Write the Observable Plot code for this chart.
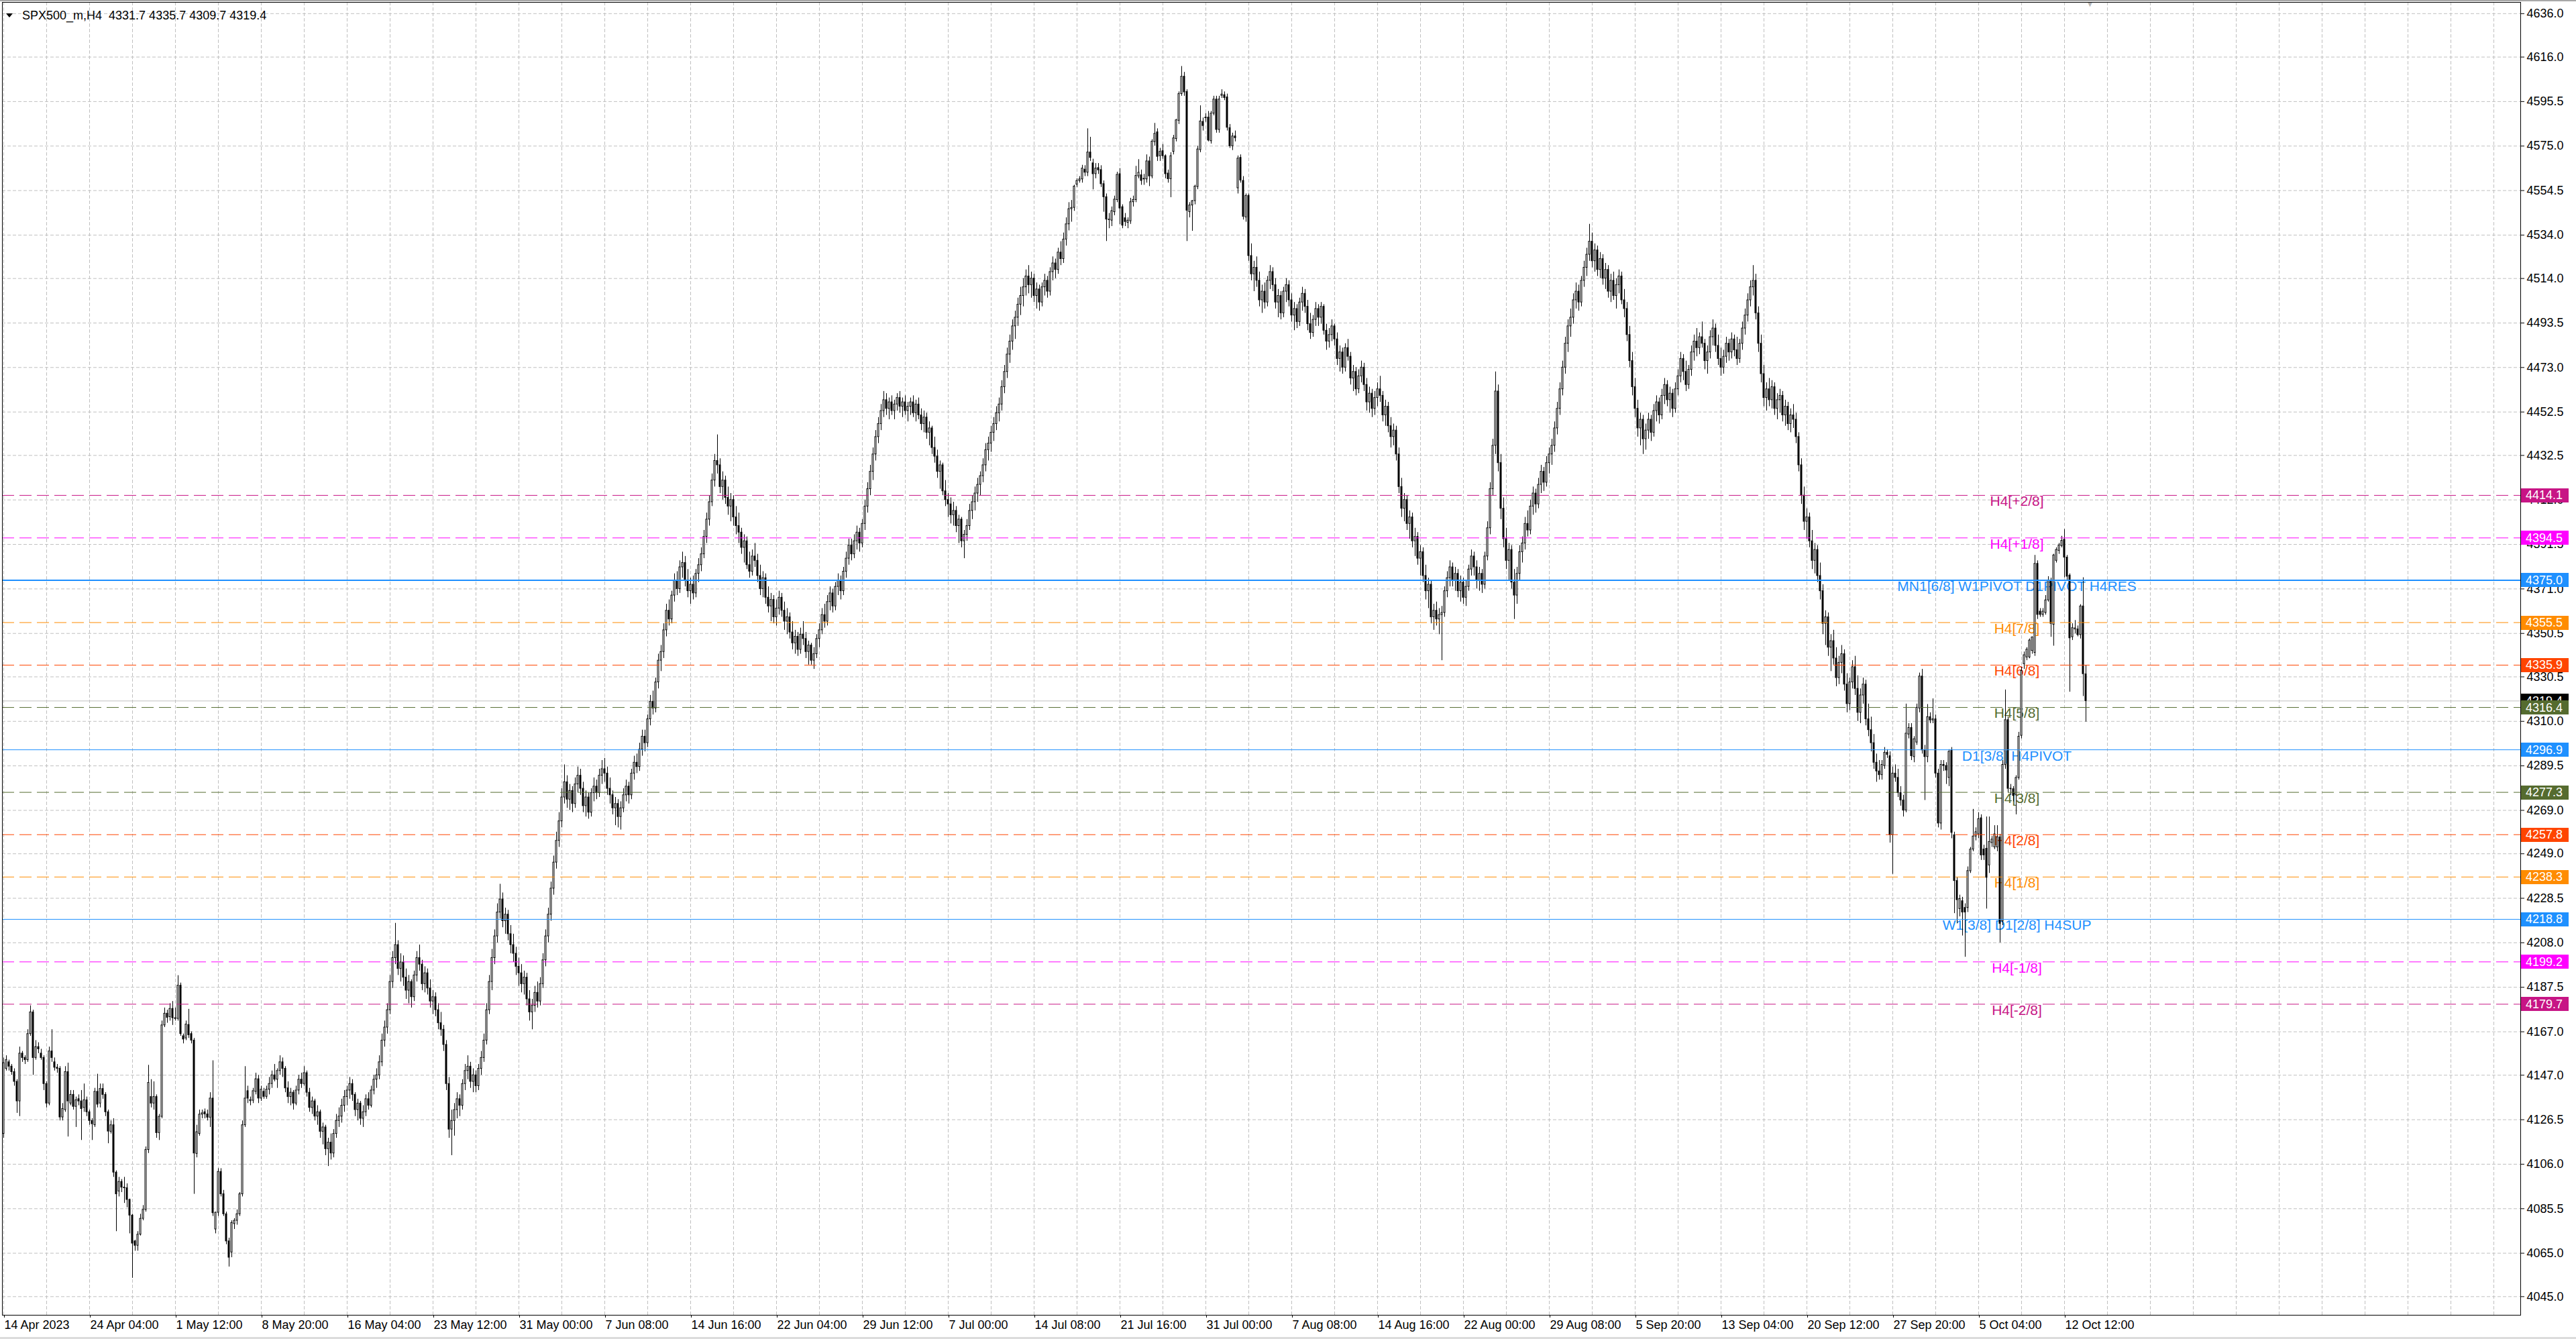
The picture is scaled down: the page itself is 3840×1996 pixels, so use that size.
<!DOCTYPE html>
<html><head><meta charset="utf-8">
<script src="https://cdn.jsdelivr.net/npm/d3@7"></script>
<script src="https://cdn.jsdelivr.net/npm/@observablehq/plot@0.6"></script>
<style>
html,body{margin:0;padding:0;background:#fff;}
body{width:3840px;height:1996px;overflow:hidden;position:relative;font-family:"Liberation Sans",Arial,sans-serif;}
#chart{position:absolute;left:0;top:0;}
#tri{position:absolute;left:9px;top:20px;width:0;height:0;border-left:5px solid transparent;border-right:5px solid transparent;border-top:6px solid #000;}
#title{position:absolute;left:33px;top:13px;font-size:18px;line-height:20px;color:#000;white-space:pre;}
#topline{position:absolute;left:0;top:0;width:3840px;height:2px;background:#a8a8a8;}
#botline{position:absolute;left:0;top:1993px;width:3840px;height:3px;background:#dcdcdc;}
</style></head><body>
<div id="chart"></div>
<div id="topline"></div><div id="botline"></div>
<div id="tri"></div><div id="title"></div>
<script>
// ---- OHLC bars [open, high, low, close], one array per 32-bar block (named by its time-axis label)
const apr14 = [
[4120,4155,4118,4152.6],[4150,4156,4149,4154],[4153,4154,4149,4151],[4151,4152,4147,4148.5],[4148.5,4150,4142,4144],[4144,4145,4129.5,4135],[4135,4160,4128,4157],[4157,4158,4153,4155],
[4155,4156,4152,4154],[4154,4168,4153,4166],[4166,4179,4165,4176],[4176,4177,4147,4155],[4155,4163,4154,4160],[4160,4162,4157,4159],[4157,4159,4154,4155],[4155,4156,4140,4143],
[4143,4144,4132,4134],[4134,4160,4133,4158],[4158,4168,4153,4155],[4153,4155,4149,4150.5],[4150.5,4152,4148,4150],[4150,4151,4126,4127.6],[4127.6,4134,4126,4131.5],[4131,4151,4130,4148.5],
[4148.5,4152.6,4118.6,4135],[4134,4140,4133,4138],[4138,4140,4131,4132.5],[4132.5,4137,4123,4135.5],[4136,4138,4133,4135],[4135,4140,4117,4131.5],[4132,4143,4130,4135.5],[4135.5,4137,4128,4130]];
const apr24 = [
[4130,4131,4124,4126],[4126,4127,4117,4124.5],[4124,4141,4123,4139.4],[4139.4,4147.5,4132,4133.5],[4134,4143,4132,4140.7],[4140.7,4143,4136,4138],[4138,4139,4128,4130],[4130,4131,4115.5,4121.1],
[4121,4126,4120,4124],[4124,4127,4100,4102.2],[4102.2,4103,4075,4092.2],[4093.5,4100,4091,4097.9],[4097.9,4099,4093,4095.3],[4095.3,4100,4088,4095],[4095,4097,4086,4089.6],[4089.6,4090,4074,4082.4],
[4082.4,4083,4053.5,4069.5],[4070.5,4071,4066,4068.5],[4068.5,4075,4066,4073.6],[4073.6,4083,4073,4080.9],[4080.9,4087,4080,4085],[4085,4114,4084,4112.6],[4112.6,4151.6,4111,4143.5],[4137,4145,4132,4134],
[4134,4144,4131,4137],[4137,4138,4118,4120.4],[4120.4,4129,4117,4127.9],[4127.9,4172,4127,4170],[4170,4178,4169,4175.4],[4175.4,4177,4171,4173.5],[4173.8,4180,4172,4177.6],[4177.6,4181,4170,4173.3]];
const may01 = [
[4173.3,4178,4172,4173],[4173,4192.9,4172,4188.3],[4188.3,4189.5,4165,4166],[4165,4166,4161.5,4163.5],[4164,4172,4163,4170.4],[4170.2,4177.4,4164,4165.5],[4166,4167,4161.5,4163],[4163,4164,4092.2,4111],
[4110.8,4124,4109,4120.8],[4120,4131,4119,4128.9],[4128.9,4131,4127,4129.5],[4130,4131.5,4127,4129],[4129,4131,4126,4127.5],[4127.5,4139,4123,4136.3],[4136.3,4153.7,4082,4083.5],[4076,4084,4074,4083.7],
[4083.7,4104,4082,4102.5],[4102.5,4104,4091,4092.2],[4092.2,4094,4082,4083],[4083,4084,4069,4070.5],[4070.5,4072,4058.7,4063],[4065.4,4080,4063,4079],[4078.5,4081,4076,4080],[4080,4085,4078,4083],
[4083,4093,4082,4092.2],[4092.2,4126,4091,4124],[4124,4151,4123,4136.3],[4139.7,4142,4134,4136.3],[4135.1,4137,4133,4135.6],[4135.3,4141,4134,4139.7],[4139.4,4148,4138,4145.2],[4145.2,4147,4134,4136.3]];
const may08 = [
[4136.3,4142,4135,4140.4],[4139.4,4141,4136,4137.1],[4137.1,4142,4136,4140.4],[4140.4,4146,4138,4143],[4143,4149,4141,4147],[4147,4152,4144,4145],[4145,4150,4141,4149],[4149,4156,4147,4153],
[4153,4155,4146,4150],[4150,4151,4139,4141],[4141,4144,4134,4137],[4137,4141,4133,4139],[4139,4140,4131,4134],[4134,4142,4133,4140],[4140,4147,4138,4145],[4145,4148,4141,4143],
[4143,4151,4142,4148],[4148,4149,4137,4139],[4139,4141,4130,4132],[4132,4137,4129,4135],[4135,4136,4126,4128],[4128,4133,4124,4130],[4130,4131,4118,4121],[4121,4125,4115,4123],
[4123,4124,4110,4113],[4113,4118,4105,4116],[4116,4120,4108,4111],[4111,4122,4109,4120],[4120,4129,4118,4126],[4126,4132,4123,4128],[4128,4136,4125,4133],[4133,4140,4130,4137]];
const may16 = [
[4137,4142,4133,4140],[4140,4146,4136,4143],[4143,4145,4135,4138],[4138,4139,4128,4131],[4131,4136,4126,4134],[4134,4135,4124,4127],[4127,4133,4123,4130],[4130,4138,4128,4136],
[4136,4139,4131,4133],[4133,4142,4132,4140],[4140,4147,4138,4145],[4145,4150,4141,4147],[4147,4156,4145,4153],[4153,4166,4151,4163],[4163,4172,4160,4169],[4169,4180,4166,4177],
[4177,4193,4175,4190],[4190,4204,4187,4201],[4201,4217,4198,4207],[4207,4209,4193,4196],[4196,4203,4190,4199],[4199,4202,4188,4192],[4192,4196,4182,4186],[4186,4193,4180,4190],
[4190,4191,4178,4183],[4183,4195,4181,4193],[4193,4204,4190,4201],[4201,4207,4195,4198],[4198,4200,4186,4189],[4189,4197,4185,4194],[4194,4196,4184,4187],[4187,4191,4178,4181]];
const may23 = [
[4181,4186,4175,4183],[4183,4185,4174,4177],[4177,4180,4168,4171],[4171,4176,4165,4168],[4168,4170,4158,4161],[4161,4163,4140,4143],[4143,4146,4118,4122],[4122,4131,4110,4126],
[4126,4134,4119,4131],[4131,4139,4127,4136],[4136,4138,4128,4133],[4133,4145,4131,4143],[4143,4152,4140,4149],[4149,4156,4145,4151],[4151,4153,4141,4144],[4144,4150,4139,4147],
[4147,4149,4139,4142],[4142,4152,4140,4150],[4150,4158,4147,4155],[4155,4166,4153,4163],[4163,4180,4161,4177],[4177,4193,4175,4190],[4190,4205,4186,4201],[4201,4214,4198,4211],
[4211,4226,4208,4222],[4222,4235,4219,4228],[4228,4231,4215,4218],[4218,4224,4212,4221],[4221,4223,4209,4212],[4212,4216,4203,4207],[4207,4212,4199,4203],[4203,4206,4193,4197]];
const may31 = [
[4197,4201,4188,4194],[4194,4198,4185,4189],[4189,4195,4184,4192],[4192,4194,4179,4182],[4182,4186,4172,4176],[4176,4182,4168,4179],[4179,4188,4176,4185],[4185,4190,4178,4181],
[4181,4192,4179,4189],[4189,4203,4187,4200],[4200,4214,4197,4211],[4211,4224,4208,4221],[4221,4236,4218,4233],[4233,4248,4230,4245],[4245,4259,4242,4255],[4255,4268,4252,4264],
[4264,4279,4261,4275],[4275,4290,4272,4282],[4282,4285,4270,4274],[4274,4281,4269,4278],[4278,4280,4268,4272],[4272,4284,4270,4281],[4281,4289,4277,4285],[4285,4288,4276,4279],
[4279,4282,4268,4271],[4271,4278,4266,4275],[4275,4277,4265,4268],[4268,4279,4266,4277],[4277,4284,4273,4280],[4280,4283,4274,4277],[4277,4288,4275,4285],[4285,4292,4281,4288]];
const jun07 = [
[4288,4293,4282,4286],[4286,4289,4276,4279],[4279,4284,4272,4276],[4276,4278,4267,4270],[4270,4275,4262,4272],[4272,4274,4261,4266],[4266,4273,4260,4270],[4270,4279,4268,4276],
[4276,4283,4273,4280],[4280,4282,4272,4276],[4276,4288,4274,4286],[4286,4294,4283,4291],[4291,4295,4286,4289],[4289,4300,4287,4297],[4297,4306,4294,4303],[4303,4306,4296,4300],
[4300,4313,4298,4311],[4311,4322,4308,4319],[4319,4324,4313,4316],[4316,4330,4314,4328],[4328,4341,4325,4338],[4338,4345,4333,4342],[4342,4355,4339,4352],[4352,4364,4349,4361],
[4361,4366,4354,4357],[4357,4370,4355,4368],[4368,4378,4365,4375],[4375,4379,4368,4371],[4371,4384,4369,4381],[4381,4388,4376,4383],[4383,4386,4372,4375],[4375,4380,4367,4370]];
const jun14 = [
[4370,4376,4364,4373],[4373,4377,4366,4369],[4369,4380,4367,4378],[4378,4385,4374,4382],[4382,4390,4379,4387],[4387,4398,4385,4395],[4395,4406,4392,4403],[4403,4414,4400,4411],
[4411,4424,4409,4421],[4421,4433,4418,4430],[4430,4442,4424,4428],[4428,4431,4415,4418],[4418,4425,4412,4421],[4421,4423,4410,4413],[4413,4418,4405,4409],[4409,4415,4402,4412],
[4412,4414,4400,4404],[4404,4409,4396,4400],[4400,4406,4392,4397],[4397,4399,4387,4390],[4390,4396,4383,4393],[4393,4395,4380,4382],[4382,4388,4376,4379],[4379,4389,4377,4386],
[4386,4392,4381,4384],[4384,4387,4374,4377],[4377,4382,4368,4371],[4371,4379,4367,4376],[4376,4378,4364,4367],[4367,4372,4360,4363],[4363,4369,4356,4366],[4366,4368,4355,4358]];
const jun22 = [
[4358,4366,4354,4362],[4362,4370,4359,4367],[4367,4369,4358,4361],[4361,4365,4352,4356],[4356,4362,4350,4358],[4358,4360,4348,4351],[4351,4356,4343,4346],[4346,4352,4341,4349],
[4349,4351,4340,4343],[4343,4353,4341,4350],[4350,4356,4345,4348],[4348,4351,4339,4342],[4342,4347,4336,4345],[4345,4346,4336,4338],[4338,4344,4334,4341],[4341,4350,4339,4348],
[4348,4355,4344,4352],[4352,4362,4350,4359],[4359,4364,4353,4356],[4356,4368,4354,4365],[4365,4372,4361,4369],[4369,4371,4360,4363],[4363,4374,4361,4372],[4372,4378,4368,4375],
[4375,4377,4366,4370],[4370,4381,4368,4379],[4379,4388,4376,4385],[4385,4394,4382,4391],[4391,4394,4384,4387],[4387,4396,4385,4393],[4393,4400,4389,4397],[4397,4399,4388,4392]];
const jun29 = [
[4392,4403,4390,4401],[4401,4412,4398,4409],[4409,4420,4406,4417],[4417,4428,4414,4425],[4425,4436,4421,4433],[4433,4444,4430,4441],[4441,4450,4438,4447],[4447,4456,4444,4453],
[4453,4462,4450,4458],[4458,4461,4451,4454],[4454,4459,4449,4457],[4457,4460,4451,4453],[4453,4458,4449,4456],[4456,4461,4453,4459],[4459,4462,4452,4455],[4455,4459,4450,4457],
[4457,4460,4451,4453],[4453,4457,4448,4455],[4455,4459,4451,4457],[4457,4460,4450,4452],[4452,4458,4448,4456],[4456,4459,4449,4451],[4451,4454,4444,4447],[4447,4453,4443,4450],
[4450,4452,4440,4443],[4443,4448,4437,4445],[4445,4446,4433,4436],[4436,4441,4429,4432],[4432,4435,4422,4425],[4425,4430,4417,4428],[4428,4429,4414,4416],[4416,4421,4409,4412]];
const jul07 = [
[4412,4415,4404,4410],[4410,4413,4401,4405],[4405,4411,4400,4407],[4407,4409,4397,4400],[4400,4405,4392,4403],[4403,4404,4390,4393],[4393,4398,4385,4396],[4396,4403,4393,4400],
[4400,4410,4398,4407],[4407,4414,4403,4411],[4411,4418,4407,4415],[4415,4422,4411,4419],[4419,4425,4414,4423],[4423,4431,4420,4428],[4428,4438,4425,4435],[4435,4441,4430,4438],
[4438,4446,4434,4443],[4443,4450,4439,4447],[4447,4455,4444,4452],[4452,4459,4448,4456],[4456,4467,4453,4464],[4464,4474,4461,4471],[4471,4482,4468,4479],[4479,4488,4475,4485],
[4485,4495,4481,4492],[4492,4499,4486,4496],[4496,4505,4492,4502],[4502,4510,4497,4506],[4506,4514,4501,4510],[4510,4518,4506,4515],[4515,4520,4507,4511],[4511,4517,4505,4514]];
const jul14 = [
[4514,4516,4503,4506],[4506,4512,4500,4509],[4509,4511,4499,4503],[4503,4512,4501,4510],[4510,4516,4506,4513],[4513,4515,4505,4508],[4508,4519,4506,4517],[4517,4524,4513,4521],
[4521,4523,4514,4518],[4518,4528,4516,4526],[4526,4531,4520,4523],[4523,4535,4521,4532],[4532,4542,4529,4539],[4539,4549,4536,4546],[4546,4550,4540,4546.6],[4546.6,4557,4545,4556.4],
[4557.3,4560,4556,4559],[4559,4561,4558,4559.7],[4559.7,4566.2,4558,4564.7],[4564.2,4566,4561,4562.8],[4562.8,4583,4561,4572.1],[4572.1,4579.1,4568,4569.6],[4567.1,4569,4554.9,4562.1],[4562.1,4567,4560,4564.7],
[4564.9,4567,4562,4563.9],[4564,4566,4556,4557.5],[4557.5,4559,4544.6,4551.5],[4551.5,4553,4531.1,4541.2],[4541.2,4544,4537,4541],[4540.7,4547,4538,4545.1],[4544.6,4552,4543,4550.4],[4550.2,4563,4549,4561.8]];
const jul21 = [
[4562.1,4564.7,4538.9,4546.3],[4546.9,4548,4537,4538.4],[4541.8,4544,4538,4540.1],[4539.7,4542,4537,4540.7],[4540.4,4551,4539,4549.2],[4549.2,4552,4547,4550.2],[4550.2,4565.7,4549,4561.3],[4561.1,4568.8,4560,4562.8],
[4561.6,4564,4557,4559],[4559.7,4562,4557,4560],[4559.7,4571,4558,4568],[4568,4570,4556.4,4561.1],[4561.1,4578,4560,4577.1],[4576.9,4585.5,4575,4580.7],[4581.4,4583,4568,4570.1],[4570.4,4574,4568,4572.4],
[4572.7,4575.8,4569,4570.4],[4570.4,4571,4560,4562.1],[4562.4,4564,4558,4559.8],[4559.8,4572,4551.3,4570.4],[4572.4,4580,4571,4578.6],[4578.3,4587.4,4577,4586.9],[4586.7,4600,4585,4599],[4599,4611.7,4598,4607],
[4607,4609,4598,4599.8],[4600,4601,4531.1,4545.3],[4544.6,4549,4542,4547.7],[4547.7,4550,4535.8,4549.7],[4549.7,4557,4548,4556.4],[4556.2,4575,4555,4573.5],[4573.2,4593.6,4572,4586.4],[4586.2,4588,4582,4584.3]];
const jul31 = [
[4587.9,4590,4586,4588.2],[4588.2,4591,4577,4577.6],[4577.3,4591,4576,4590],[4590,4598,4589,4596.5],[4596.5,4598,4581,4582.5],[4582.5,4598,4581,4596.5],[4598.2,4601,4597,4598.8],[4598.5,4600,4596,4597.2],
[4597.5,4599,4582,4583.5],[4583.3,4585,4574,4575],[4575,4581,4573,4579.5],[4579.5,4582,4577,4578.7],[4555.6,4570.5,4553,4569.3],[4569.6,4571,4558,4559.2],[4559,4561,4541,4542.5],[4542.2,4553,4540,4552.1],
[4552.1,4553,4522,4524.4],[4524.4,4530,4513,4516],[4516,4522,4508,4519],[4519,4524,4510,4513],[4513,4517,4501,4504],[4504,4511,4498,4508],[4508,4512,4500,4503],[4503,4515,4501,4513],
[4513,4520,4509,4517],[4517,4519,4508,4511],[4511,4514,4500,4503],[4503,4509,4496,4506],[4506,4508,4495,4498],[4498,4510,4496,4508],[4508,4514,4503,4511],[4511,4513,4501,4504]];
const aug07 = [
[4504,4507,4494,4497],[4497,4503,4490,4500],[4500,4502,4491,4494],[4494,4505,4492,4503],[4503,4510,4499,4507],[4507,4509,4498,4501],[4501,4504,4490,4493],[4493,4498,4486,4489],
[4489,4497,4487,4495],[4495,4503,4492,4500],[4500,4502,4492,4496],[4496,4503,4493,4501],[4501,4502,4488,4490],[4490,4493,4481,4485],[4485,4491,4482,4488],[4488,4495,4485,4492],
[4492,4493,4483,4486],[4486,4489,4474,4477],[4477,4483,4471,4480],[4480,4482,4470,4473],[4473,4484,4471,4482],[4482,4486,4476,4478],[4478,4480,4465,4468],[4468,4474,4462,4471],
[4471,4473,4460,4463],[4463,4472,4461,4469],[4469,4476,4466,4473],[4473,4475,4462,4465],[4465,4468,4453,4457],[4457,4464,4452,4461],[4461,4463,4450,4454],[4454,4462,4451,4459]];
const aug14 = [
[4459,4466,4455,4463],[4463,4469,4457,4460],[4460,4462,4448,4451],[4451,4458,4446,4455],[4455,4457,4443,4446],[4446,4450,4436,4441],[4441,4447,4437,4444],[4444,4446,4430,4433],
[4433,4436,4415,4418],[4418,4422,4404,4408],[4408,4415,4402,4412],[4412,4414,4398,4401],[4401,4407,4394,4404],[4404,4406,4390,4393],[4393,4399,4386,4395],[4395,4397,4382,4385],
[4385,4391,4377,4388],[4388,4390,4374,4377],[4377,4382,4366,4370],[4370,4376,4362,4373],[4373,4375,4355,4358],[4358,4364,4352,4361],[4361,4365,4354,4357],[4357,4362,4350,4359],
[4359,4363,4338,4360],[4360,4372,4358,4370],[4370,4379,4367,4376],[4376,4384,4372,4381],[4381,4383,4372,4375],[4375,4381,4370,4378],[4378,4380,4367,4370],[4370,4377,4365,4374]];
const aug22 = [
[4374,4376,4364,4367],[4367,4375,4363,4372],[4372,4382,4370,4380],[4380,4389,4377,4386],[4386,4388,4377,4381],[4381,4384,4371,4375],[4375,4381,4370,4378],[4378,4380,4369,4373],
[4373,4388,4371,4386],[4386,4402,4384,4399],[4399,4420,4396,4417],[4417,4440,4414,4437],[4437,4471,4433,4462],[4462,4465,4425,4429],[4429,4433,4403,4408],[4408,4413,4390,4394],
[4394,4399,4380,4384],[4384,4392,4375,4389],[4389,4391,4371,4374],[4374,4380,4357,4368],[4368,4381,4364,4378],[4378,4391,4375,4388],[4388,4395,4383,4392],[4392,4404,4389,4401],
[4401,4407,4395,4398],[4398,4412,4396,4409],[4409,4418,4405,4415],[4415,4417,4406,4410],[4410,4422,4408,4419],[4419,4428,4415,4425],[4425,4427,4416,4420],[4420,4432,4418,4429]];
const aug29 = [
[4429,4436,4424,4433],[4433,4440,4428,4437],[4437,4448,4434,4445],[4445,4457,4442,4454],[4454,4466,4451,4463],[4463,4476,4460,4473],[4473,4487,4470,4484],[4484,4495,4480,4492],
[4492,4500,4487,4496],[4496,4507,4493,4504],[4504,4512,4500,4508],[4508,4511,4499,4503],[4503,4515,4501,4513],[4513,4522,4510,4519],[4519,4528,4515,4525],[4525,4539,4522,4531],
[4531,4535,4519,4522],[4522,4530,4517,4527],[4527,4529,4515,4518],[4518,4526,4514,4523],[4523,4525,4511,4514],[4514,4521,4509,4518],[4518,4520,4505,4508],[4508,4516,4503,4513],
[4513,4517,4504,4506],[4506,4514,4500,4511],[4511,4518,4507,4515],[4515,4517,4502,4504],[4504,4509,4496,4500],[4500,4503,4485,4488],[4488,4492,4473,4476],[4476,4480,4460,4464]];
const sep05 = [
[4464,4468,4450,4454],[4454,4458,4441,4445],[4445,4452,4437,4449],[4449,4451,4433,4440],[4440,4447,4435,4444],[4444,4452,4440,4449],[4449,4451,4439,4443],[4443,4456,4441,4453],
[4453,4460,4448,4457],[4457,4459,4447,4451],[4451,4463,4449,4460],[4460,4468,4456,4465],[4465,4467,4455,4458],[4458,4464,4452,4461],[4461,4463,4450,4454],[4454,4466,4452,4463],
[4463,4472,4460,4469],[4469,4480,4466,4477],[4477,4479,4467,4471],[4471,4476,4462,4465],[4465,4474,4463,4472],[4472,4483,4469,4480],[4480,4488,4476,4485],[4485,4491,4478,4482],
[4482,4489,4479,4487],[4487,4494,4482,4484],[4484,4486,4472,4476],[4476,4483,4470,4480],[4480,4490,4477,4487],[4487,4495,4483,4491],[4491,4493,4480,4483],[4483,4488,4474,4477]];
const sep13 = [
[4477,4482,4469,4473],[4473,4481,4470,4478],[4478,4487,4475,4484],[4484,4486,4476,4480],[4480,4489,4477,4486],[4486,4488,4478,4481],[4481,4487,4474,4477],[4477,4486,4475,4484],
[4484,4494,4481,4491],[4491,4500,4488,4497],[4497,4507,4494,4504],[4504,4513,4501,4510],[4510,4520,4506,4513],[4513,4516,4495,4498],[4498,4501,4480,4484],[4484,4488,4466,4470],
[4470,4474,4455,4459],[4459,4466,4453,4463],[4463,4468,4455,4458],[4458,4467,4454,4464],[4464,4466,4451,4454],[4454,4461,4449,4458],[4458,4463,4452,4460],[4460,4462,4448,4451],
[4451,4458,4446,4455],[4455,4457,4444,4447],[4447,4454,4443,4451],[4451,4456,4445,4449],[4449,4452,4438,4441],[4441,4443,4425,4428],[4428,4431,4410,4414],[4414,4418,4398,4402]];
const sep20 = [
[4402,4408,4394,4404],[4404,4406,4390,4393],[4393,4398,4380,4384],[4384,4392,4378,4389],[4389,4391,4374,4377],[4377,4383,4366,4370],[4370,4373,4350,4355],[4355,4361,4345,4358],
[4358,4360,4340,4344],[4344,4350,4333,4347],[4347,4352,4336,4339],[4339,4344,4326,4330],[4330,4340,4327,4337],[4337,4345,4332,4341],[4341,4343,4324,4327],[4327,4332,4314,4318],
[4318,4330,4315,4328],[4328,4338,4325,4335],[4335,4340,4322,4325],[4325,4331,4310,4314],[4314,4325,4309,4322],[4322,4330,4318,4327],[4327,4329,4308,4311],[4311,4318,4303,4306],
[4306,4312,4296,4300],[4300,4304,4288,4291],[4291,4295,4282,4287],[4287,4292,4283,4285.3],[4285.3,4292,4283,4290],[4289.5,4298,4288,4295.6],[4295.6,4297,4293,4294.6],[4294,4296,4254,4257.6]];
const sep27 = [
[4257.6,4289,4239.6,4286],[4286,4290,4282,4284],[4284,4288,4275,4277],[4277,4280,4271,4273.6],[4273.6,4276,4266,4269],[4269,4318,4268,4304.4],[4304,4309,4302,4307],[4307,4309,4292,4294],
[4293.6,4303,4291,4301.8],[4300.3,4318,4299,4316.3],[4316,4332.3,4314,4330.7],[4330.7,4334,4295,4296.7],[4296.7,4299,4273.6,4293.6],[4293.6,4317.8,4291,4312],[4312,4314,4309,4310.5],[4310.5,4320.4,4309,4311],
[4311,4313,4284,4286],[4286,4288,4261,4263],[4263,4292,4260,4290],[4290,4292,4287,4289.5],[4289.5,4291,4281,4287.4],[4284,4297,4280,4296],[4296.7,4298,4256,4258.7],[4257.6,4259,4221.5,4236.5],
[4236.5,4238,4216.8,4227.7],[4223.6,4230,4220,4228.2],[4227.2,4229,4211.2,4222],[4224.1,4226,4201.4,4222],[4224.1,4243,4222,4241.1],[4241,4252,4240,4251],[4251,4269.5,4250,4257],[4257,4261,4255,4259]];
const oct05 = [
[4258,4268,4256,4265],[4265.4,4267,4246,4248.3],[4251,4253,4246,4248.3],[4251.4,4266,4223.6,4238],[4243.7,4266,4240,4254.5],[4254,4257,4252,4255.6],[4252,4262,4251,4258],[4252,4262,4250,4256.6],
[4256.6,4258,4208,4216.8],[4217.9,4292,4216,4290],[4290,4324.5,4288,4310.6],[4310.6,4312,4277,4279],[4279,4281,4276,4278.8],[4278.8,4280,4273,4275.7],[4276,4285,4267,4284],[4284,4305,4283,4303],
[4303.4,4335,4302,4333.3],[4336.4,4342,4334,4340.5],[4339.5,4344,4338,4343.1],[4339.5,4348,4338.9,4347.3],[4342.5,4349,4341,4348.7],[4341.6,4386.5,4340,4382.6],[4382.6,4384,4357,4359.1],[4360.6,4362,4358,4359.1],
[4359.1,4362,4358,4360.6],[4360,4368,4359,4365.8],[4365.8,4376.7,4365,4375],[4375,4376,4348.8,4355],[4354.5,4387,4344.7,4386.5],[4384,4390,4383,4389],[4388.6,4392,4387,4391],[4390.8,4395.3,4390,4393.2]];
const oct12 = [
[4393.7,4398.4,4376.2,4385.5],[4385.5,4386.5,4375,4376.7],[4377.2,4378,4323.5,4348.3],[4348.8,4355,4347.3,4353],[4352.4,4356.5,4350.4,4352.9],[4352.4,4354,4349,4349.8],[4349.8,4363.8,4348,4363],[4363,4376.2,4321.5,4331.8],
[4331.7,4335.7,4309.7,4319.4]];

// ---- axis tick labels
const xLabels = ["14 Apr 2023","24 Apr 04:00","1 May 12:00","8 May 20:00","16 May 04:00","23 May 12:00","31 May 00:00","7 Jun 08:00","14 Jun 16:00","22 Jun 04:00","29 Jun 12:00","7 Jul 00:00","14 Jul 08:00","21 Jul 16:00","31 Jul 00:00","7 Aug 08:00","14 Aug 16:00","22 Aug 00:00","29 Aug 08:00","5 Sep 20:00","13 Sep 04:00","20 Sep 12:00","27 Sep 20:00","5 Oct 04:00","12 Oct 12:00"];
const yTickLabels = ["4636.0","4616.0","4595.5","4575.0","4554.5","4534.0","4514.0","4493.5","4473.0","4452.5","4432.5","4412.0","4391.5","4371.0","4350.5","4330.5","4310.0","4289.5","4269.0","4249.0","4228.5","4208.0","4187.5","4167.0","4147.0","4126.5","4106.0","4085.5","4065.0","4045.0"];

// ---- Murrey / pivot levels
const levelValues = [4414.1,4394.5,4375.0,4355.5,4335.9,4316.4,4296.9,4277.3,4257.8,4238.3,4218.8,4199.2,4179.7];
const levelLabels = ["H4[+2/8]","H4[+1/8]","MN1[6/8] W1PIVOT D1PIVOT H4RES","H4[7/8]","H4[6/8]","H4[5/8]","D1[3/8] H4PIVOT","H4[3/8]","H4[2/8]","H4[1/8]","W1[3/8] D1[2/8] H4SUP","H4[-1/8]","H4[-2/8]"];
// styles (kept apart from the values)
const levelColors = ["#C71585","#FF00FF","#1E90FF","#FF8C00","#FF4500","#556B2F","#1E90FF","#556B2F","#FF4500","#FF8C00","#1E90FF","#FF00FF","#C71585"];
const levelDashed = [true,true,false,true,true,true,false,true,true,true,false,true,true];
const levelWidths = [1,1,2,1,1,1,1,1,1,1,1,1,1];

const bars = [apr14,apr24,may01,may08,may16,may23,may31,jun07,jun14,jun22,jun29,jul07,jul14,jul21,jul31,aug07,aug14,aug22,aug29,sep05,sep13,sep20,sep27,oct05,oct12]
  .flat().map((d,i)=>({i, o:d[0], h:d[1], l:d[2], c:d[3]}));
const last = bars[bars.length-1];
const bid = last.c;
const levels = levelValues.map((v,k)=>({v, label:levelLabels[k], color:levelColors[k], dashed:levelDashed[k], w:levelWidths[k]}));
const yTicks = yTickLabels.map(Number);
const xTicks = xLabels.map((_,k)=>k*32);
const gridBars = d3.range(0, 939, 16);
const labelBar = bars.length - 26.75;
const FONT = "'Liberation Sans', Arial, sans-serif";

document.getElementById("title").textContent =
  `SPX500_m,H4  ${last.o.toFixed(1)} ${last.h.toFixed(1)} ${last.l.toFixed(1)} ${last.c.toFixed(1)}`;

const chart = Plot.plot({
  width: 3840, height: 1996,
  marginLeft: 3, marginRight: 83, marginTop: 3, marginBottom: 36,
  x: {type: "linear", domain: [-0.5, 938], label: null},
  y: {type: "linear", domain: [4036.45, 4641.2], label: null},
  color: {type: "identity"},
  style: {fontFamily: FONT, fontSize: "18px", color: "#000", background: "#fff"},
  marks: [
    Plot.gridY(yTicks, {stroke: "#c0c0c0", strokeOpacity: 1, strokeDasharray: "5,3"}),
    Plot.gridX(gridBars, {stroke: "#c0c0c0", strokeOpacity: 1, strokeDasharray: "5,3"}),
    Plot.text(levels, {x: () => labelBar, y: "v", text: "label", fill: "color", fontSize: 21, lineAnchor: "top", dy: 1, fontFamily: FONT}),
    Plot.ruleY([bid], {stroke: "#c0c0c0"}),
    Plot.ruleX(bars, {x: "i", y1: "l", y2: "h", stroke: "#000", strokeWidth: 1}),
    Plot.rect(bars, {x1: d => d.i - 0.25, x2: d => d.i + 0.25, y1: "o", y2: "c",
      fill: d => d.c >= d.o ? "#fff" : "#000", stroke: "#000", strokeWidth: 1}),
    Plot.ruleY(levels.filter(d => d.dashed), {y: "v", stroke: "color", strokeDasharray: "18,8"}),
    Plot.ruleY(levels.filter(d => !d.dashed), {y: "v", stroke: "color", strokeWidth: "w"}),
    Plot.text([bars.length], {x: d => d + 0.5, frameAnchor: "top", text: () => "\u25BC", fill: "#b4b4b4", fontSize: 11, lineAnchor: "top", dy: -1}),
    Plot.frame({stroke: "#000"}),
    Plot.axisY(yTicks, {anchor: "right", tickSize: 5, tickPadding: 4, tickFormat: d => d.toFixed(1), fontSize: 18, label: null}),
    Plot.axisX(xTicks, {anchor: "bottom", tickSize: 4, tickPadding: 4, textAnchor: "start", dx: 1, tickFormat: d => xLabels[d / 32], fontSize: 18, label: null})
  ]
});
document.getElementById("chart").appendChild(chart);

// price tags on the right axis (current bid first, then the levels on top)
const ys = chart.scale("y");
const g = d3.select(chart).append("g").attr("font-family", FONT).attr("font-size", 18).attr("text-anchor", "start");
for (const b of [{v: bid, color: "#000"}, ...levels]) {
  const y = ys.apply(b.v);
  g.append("rect").attr("x", 3758).attr("y", Math.round(y) - 10).attr("width", 71).attr("height", 21).attr("fill", b.color);
  g.append("text").attr("x", 3765).attr("y", y).attr("dy", "0.36em").attr("fill", "#fff").attr("text-anchor", "start").text(b.v.toFixed(1));
}
</script>
</body></html>
